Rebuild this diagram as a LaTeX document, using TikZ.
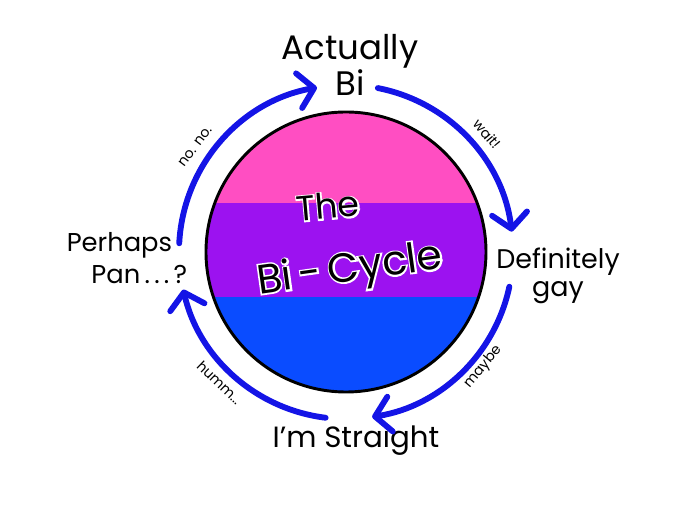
\documentclass[tikz,border=0pt]{standalone}
\usepackage{fontspec}
\setmainfont{Poppins}
\usetikzlibrary{arrows.meta}
\definecolor{bipink}{HTML}{FF4EC2}
\definecolor{bipurple}{HTML}{9C12F0}
\definecolor{biblue}{HTML}{0A4CFF}
\definecolor{cycleblue}{HTML}{1414E6}

\newcommand{\halo}[1]{{\addfontfeature{FakeBold=8}\color{white}#1}}

\tikzset{
  cyclearrow/.style={draw=cycleblue, line width=5pt, line cap=round,
    -{Straight Barb[length=13pt,width=30pt,round]}},
  stage/.style={align=center, inner sep=0pt},
  quiet/.style={font=\fontsize{12}{13}\selectfont, inner sep=0pt},
}

\begin{document}
\begin{tikzpicture}[x=0.03cm, y=0.03cm]
\useasboundingbox (-346,-254) rectangle (344,252);

\begin{scope}
\clip (0,0) circle (140);
\fill[bipink] (-140,49) rectangle (140,140);
\fill[bipurple] (-140,-45) rectangle (140,49);
\fill[biblue] (-140,-140) rectangle (140,-45);
\end{scope}
\draw[line width=2.5pt] (0,0) circle (140);

\node[rotate=5, font=\fontsize{30}{30}\selectfont] (the-halo)
  at (-18,46) {\halo{The}};
\node[rotate=5, font=\fontsize{30}{30}\selectfont] (the)
  at (-18,46) {The};
\node[rotate=8, font=\fontsize{35}{35}\selectfont] (bicycle-halo)
  at (4,-19) {\halo{Bi\,-\,Cycle}};
\node[rotate=8, font=\fontsize{35}{35}\selectfont] (bicycle)
  at (4,-19) {Bi\,-\,Cycle};

\node[stage, font=\fontsize{29}{31}\selectfont] (bi)
  at (4,187) {Actually\\Bi};
\node[stage, font=\fontsize{23}{24}\selectfont] (gay)
  at (212,-24) {Definitely\\gay};
\node[stage, align=left, font=\fontsize{22}{28}\selectfont] (pan)
  at (-219,-6) {Perhaps\\\hspace*{21pt}Pan\,.\,.\,.\,?};
\node[stage, font=\fontsize{25}{26}\selectfont] (straight)
  at (10,-188) {I'm Straight};

\coordinate (from-pan) at (177:167);
\coordinate (from-bi) at (79:167);
\coordinate (from-gay) at (-12:167);
\coordinate (from-straight) at (-97:167);

\draw[cyclearrow] (from-pan) arc[start angle=177, end angle=100, radius=167];
\draw[cyclearrow] (from-bi) arc[start angle=79, end angle=7, radius=167];
\draw[cyclearrow] (from-gay) arc[start angle=-12, end angle=-81, radius=167];
\draw[cyclearrow] (from-straight) arc[start angle=-97, end angle=-167, radius=167];

\node[quiet, rotate=53] (nono) at (145:184) {no. no.};
\node[quiet, rotate=-50] (wait) at (40:184) {wait!};
\node[quiet, rotate=50] (maybe) at (-40:179) {maybe};
\node[quiet, rotate=-44] (humm) at (-134:182) {humm...};

\end{tikzpicture}
\end{document}
